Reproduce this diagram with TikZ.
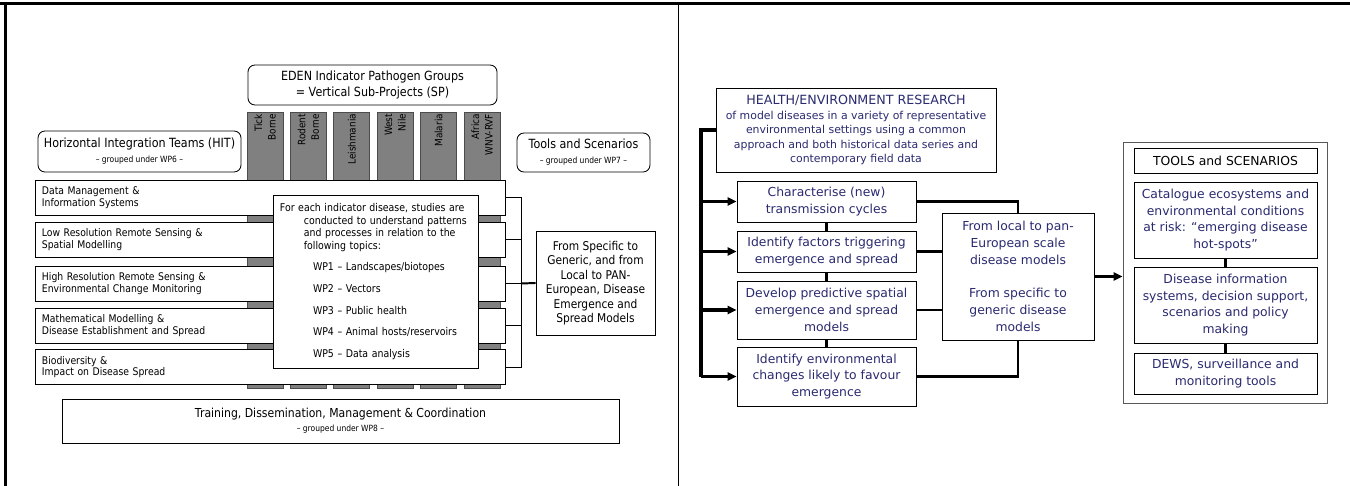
\documentclass[tikz,border=0pt]{standalone}
\usepackage{fontspec}
\setmainfont{DejaVu Sans}
\newfontfamily\tahoma[FakeStretch=0.88]{DejaVu Sans}
\usetikzlibrary{arrows.meta}
\definecolor{spgrey}{RGB}{128,128,128}
\definecolor{navytxt}{RGB}{42,42,112}

\begin{document}
\begin{tikzpicture}[x=0.025cm,y=-0.025cm,
    every node/.style={inner sep=0pt},
    group/.style={draw, fill=white, rounded corners=5pt, line width=0.6pt, align=center,
      font=\tahoma\fontsize{9}{10.7}\selectfont},
    spcol/.style={draw=black!70, fill=spgrey, line width=0.6pt, rotate=90,
      minimum width=6.9cm, minimum height=0.9cm, text width=6.8cm, align=right,
      font=\tahoma\fontsize{7.2}{9.6}\selectfont},
    hitbar/.style={draw, fill=white, line width=0.6pt, minimum width=11.75cm,
      minimum height=0.875cm, inner xsep=0.175cm, text width=11.4cm, align=left,
      font=\tahoma\fontsize{7.5}{8.1}\selectfont},
    plainbox/.style={draw, fill=white, line width=0.6pt, align=center},
    task/.style={draw, fill=white, line width=0.6pt, text=navytxt, align=center,
      minimum width=4.475cm, font=\fontsize{8.8}{11.9}\selectfont},
    toolbox/.style={task, minimum width=4.575cm},
    link/.style={line width=2pt},
    stub/.style={line width=1.6pt},
    spine/.style={line width=2.6pt},
    fat arrow/.style={line width=2.6pt, -{Triangle[length=6.4pt,width=5.8pt]}}]
  \useasboundingbox (0,0) rectangle (1350,486);
  \draw[line width=2pt] (0,3.5) -- (1350,3.5);
  \draw[line width=2pt] (5.5,3.5) -- (5.5,486);
  \draw[line width=1.4pt] (678.5,3.5) -- (678.5,486);

  \node[group, minimum width=6.225cm, minimum height=1cm] (eden) at (372.5,85)
    {EDEN Indicator Pathogen Groups\\= Vertical Sub-Projects (SP)};
  \node[group, minimum width=5.075cm, minimum height=1.025cm] (hit) at (139.5,151.5)
    {Horizontal Integration Teams (HIT)\\{\fontsize{6.1}{7.4}\selectfont – grouped under WP6 –}};
  \node[group, minimum width=3.325cm, minimum height=0.975cm] (toolsgrp) at (583.5,152.5)
    {Tools and Scenarios\\{\fontsize{6.1}{7.4}\selectfont – grouped under WP7 –}};

  \node[spcol] (tick) at (265,250) {Tick\\Borne};
  \node[spcol] (rodent) at (308.4,250) {Rodent\\Borne};
  \node[spcol] (leish) at (351.8,250) {Leishmania};
  \node[spcol] (westnile) at (395.2,250) {West\\Nile};
  \node[spcol] (malaria) at (438.6,250) {Malaria};
  \node[spcol] (africa) at (482,250) {Africa\\WNV-RVF};

  \node[hitbar] (datamgmt) at (270,197.5) {Data Management \&\\Information Systems};
  \node[hitbar] (lowres) at (270,239.5) {Low Resolution Remote Sensing \&\\Spatial Modelling};
  \node[hitbar] (highres) at (270,283.5) {High Resolution Remote Sensing \&\\Environmental Change Monitoring};
  \node[hitbar] (mathmod) at (270,325.5) {Mathematical Modelling \&\\Disease Establishment and Spread};
  \node[hitbar] (biodiv) at (270,367) {Biodiversity \&\\Impact on Disease Spread};

  \node[plainbox, minimum width=5.125cm, minimum height=4.325cm, inner xsep=0.175cm,
    text width=4.775cm, align=left, font=\tahoma\fontsize{7.6}{8.9}\selectfont] (topics) at (375.5,281.5)
    {For each indicator disease, studies are\\
     \hspace*{17pt}conducted to understand patterns\\
     \hspace*{17pt}and processes in relation to the\\
     \hspace*{17pt}following topics:\\[6.5pt]
     \hspace*{23.5pt}WP1 – Landscapes/biotopes\\[6.5pt]
     \hspace*{23.5pt}WP2 – Vectors\\[6.5pt]
     \hspace*{23.5pt}WP3 – Public health\\[6.5pt]
     \hspace*{23.5pt}WP4 – Animal hosts/reservoirs\\[6.5pt]
     \hspace*{23.5pt}WP5 – Data analysis};

  \node[plainbox, minimum width=2.975cm, minimum height=2.6cm,
    font=\tahoma\fontsize{8.6}{10.3}\selectfont] (spec) at (595.5,283)
    {From Specific to\\Generic, and from\\Local to PAN-\\European, Disease\\Emergence and\\Spread Models};
  \node[plainbox, minimum width=13.925cm, minimum height=1.1cm,
    font=\tahoma\fontsize{8.8}{10}\selectfont] (training) at (340.5,421)
    {Training, Dissemination, Management \& Coordination\\{\fontsize{6.1}{7.4}\selectfont – grouped under WP8 –}};

  \coordinate (brk) at (521,283.5);
  \begin{scope}[-]
    \draw (datamgmt.east) -- (datamgmt.east -| brk) -- (biodiv.east -| brk) -- (biodiv.east);
    \draw (lowres.east) -- (lowres.east -| brk);
    \draw (highres.east) -- (highres.east -| brk);
    \draw (mathmod.east) -- (mathmod.east -| brk);
    \draw[line width=1.4pt] (brk) -- (spec.west);
  \end{scope}

  \node[task, minimum width=7cm, minimum height=2.1cm, font=\fontsize{7.75}{10.3}\selectfont] (health) at (856,130)
    {{\fontsize{9}{10.3}\selectfont HEALTH/ENVIRONMENT RESEARCH}\\
     of model diseases in a variety of representative\\
     environmental settings using a common\\
     approach and both historical data series and\\
     contemporary field data};
  \node[task, minimum height=1.025cm] (chara) at (826.5,201.5) {Characterise (new)\\transmission cycles};
  \node[task, minimum height=1.025cm] (trigger) at (826.5,251.5) {Identify factors triggering\\emergence and spread};
  \node[task, minimum height=1.45cm] (predict) at (826.5,310) {Develop predictive spatial\\emergence and spread\\models};
  \node[task, minimum height=1.475cm] (envch) at (826.5,376.5) {Identify environmental\\changes likely to favour\\emergence};
  \node[task, minimum width=3.8cm, minimum height=3.175cm] (scale) at (1018,276.5)
    {From local to pan-\\European scale\\disease models\\[11.9pt]From specific to\\generic disease\\models};

  \node[draw=black!65, line width=0.6pt, minimum width=5.1cm, minimum height=6.525cm] (toolsfr) at (1225,272.5) {};
  \node[toolbox, text=black, minimum height=0.625cm] (toolstitle) at (1225.5,160.5) {TOOLS and SCENARIOS};
  \node[toolbox, minimum height=1.9cm] (catalog) at (1225.5,220)
    {Catalogue ecosystems and\\environmental conditions\\at risk: “emerging disease\\hot-spots”};
  \node[toolbox, minimum height=1.9cm] (disinfo) at (1225.5,305)
    {Disease information\\systems, decision support,\\scenarios and policy\\making};
  \node[toolbox, minimum height=1.025cm] (dews) at (1225.5,373.5) {DEWS, surveillance and\\monitoring tools};

  \coordinate (spn) at (701,130);
  \begin{scope}[-]
    \draw[spine] (health.west) -- (spn) -- (spn |- envch.west);
    \draw[fat arrow] (spn |- chara.west) -- (chara.west);
    \draw[fat arrow] (spn |- trigger.west) -- (trigger.west);
    \draw[fat arrow] (spn |- predict.west) -- (predict.west);
    \draw[fat arrow] (spn |- envch.west) -- (envch.west);
    \draw[stub] (chara.south) -- (trigger.north);
    \draw[stub] (trigger.south) -- (predict.north);
    \draw[stub] (predict.south) -- (envch.north);
    \draw[link] (chara.east) -| (scale.north);
    \draw[link] (trigger.east) -- (trigger.east -| scale.west);
    \draw[link] (predict.east) -- (predict.east -| scale.west);
    \draw[link] (envch.east) -| (scale.south);
    \draw[fat arrow] (scale.east) -- (scale.east -| toolsfr.west);
    \draw[stub] (catalog.south) -- (disinfo.north);
    \draw[stub] (disinfo.south) -- (dews.north);
  \end{scope}
\end{tikzpicture}
\end{document}
